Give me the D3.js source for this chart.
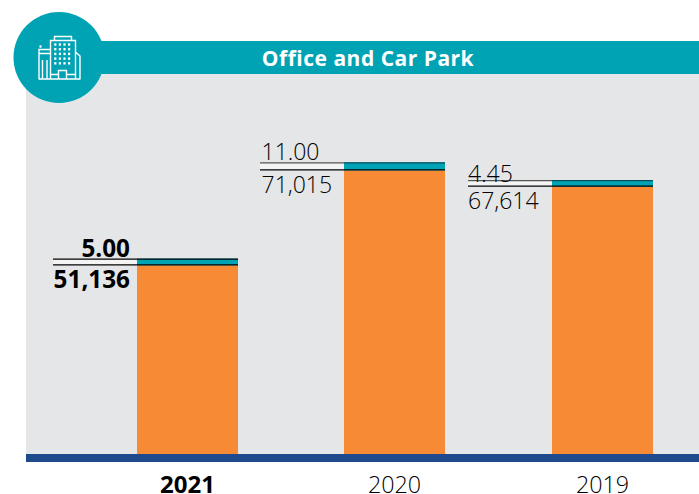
<!DOCTYPE html>
<html><head><meta charset="utf-8">
<script src="https://cdnjs.cloudflare.com/ajax/libs/d3/7.8.5/d3.min.js"></script>
<style>html,body{margin:0;padding:0;background:#fff}svg{display:block}text{font-family:"Open Sans",sans-serif}</style>
</head><body><svg id="c" width="699" height="494"></svg>
<script>
const title = "Office and Car Park";
const years = ["2021","2020","2019"];
const carParkValues = [51136,71015,67614];
const carParkLabels = ["51,136","71,015","67,614"];
const officeValues = [5.00,11.00,4.45];
const officeLabels = ["5.00","11.00","4.45"];
const current = "2021";

const svg = d3.select("#c");
const base = 454;
svg.append("rect").attr("x",26).attr("y",74).attr("width",673).attr("height",380).attr("fill","#e5e6e8");
svg.append("rect").attr("x",26).attr("y",41).attr("width",673).attr("height",33).attr("fill","#00a3b4");
svg.append("circle").attr("cx",59).attr("cy",57.5).attr("r",45.5).attr("fill","#00a3b4");
svg.append("text").attr("x",368).attr("y",66).attr("text-anchor","middle").attr("fill","#fff")
  .attr("font-size",21).attr("font-weight",700).attr("letter-spacing",0.5).text(title);

// icon
const ic = svg.append("g").attr("fill","none").attr("stroke","#fff").attr("stroke-width",1.4);
ic.append("path").attr("d","M50.5 79V40.5H75.5V79M54.5 40V36.5H71.5V40M39 79V49.5H50M39 53.5H50M42.5 79V60M47 79V60M75.5 52L80 56V79M38.5 79H80.5M51 74.5H58.5M66.5 74.5H75M58.5 79V70.5H66.5V79");
ic.append("g").attr("fill","#fff").attr("stroke","none").selectAll("rect")
  .data(d3.cross(d3.range(5),d3.range(4)))
  .join("rect").attr("x",d=>54.2+d[1]*4.6).attr("y",d=>43.3+d[0]*4.7)
  .attr("width",2.2).attr("height",2.4);
ic.append("circle").attr("cx",40.5).attr("cy",46.5).attr("r",.5).attr("fill","#fff");

const xs = d3.scalePoint().domain(years).range([137,552]);
const y = d3.scaleLinear().domain([11600,71015]).range([base,170.4]);
const h = d3.scaleLinear().domain([4.45,11]).range([6.5,8]);
const barW = 101;
const anchorX = {"2021":130,"2020":261.5,"2019":468};
const lineX = {"2021":53,"2020":260,"2019":468};
const upperGap = {"2021":-2,"2020":-2.5,"2019":1.5};
const lowerGap = {"2021":22.5,"2020":23,"2019":22};

years.forEach((yr,i)=>{
  const x0 = Math.floor(xs(yr)), top = y(carParkValues[i]), tt = top-h(officeValues[i]);
  const bold = yr===current;
  const g = svg.append("g");
  g.append("rect").attr("x",lineX[yr]).attr("y",tt).attr("width",x0-lineX[yr]).attr("height",top-tt).attr("fill","#f4f4f4");
  g.append("rect").attr("x",x0).attr("y",top).attr("width",barW).attr("height",base-top).attr("fill","#f78b35");
  g.append("rect").attr("x",x0).attr("y",tt).attr("width",barW).attr("height",top-tt).attr("fill","#00a3b4");
  const upper = bold?"#000":"#555";
  g.append("line").attr("x1",lineX[yr]).attr("x2",x0).attr("y1",tt+.5).attr("y2",tt+.5).attr("stroke",upper).attr("stroke-width",1.2);
  g.append("line").attr("x1",x0).attr("x2",x0+barW).attr("y1",tt+.5).attr("y2",tt+.5).attr("stroke",bold?"#000":"#04505c").attr("stroke-width",1.2);
  g.append("line").attr("x1",lineX[yr]).attr("x2",x0+barW).attr("y1",top-.5).attr("y2",top-.5).attr("stroke","#000").attr("stroke-width",1.2);
  const attrs = s=>s.attr("x",anchorX[yr]).attr("text-anchor",bold?"end":"start").attr("font-size",bold?24.3:23)
     .attr("font-weight",bold?700:300).attr("fill","#000");
  g.append("text").call(attrs).attr("y",tt+upperGap[yr]).text(officeLabels[i]);
  g.append("text").call(attrs).attr("y",top+lowerGap[yr]).text(carParkLabels[i]);
  g.append("text").attr("x",x0+barW/2).attr("y",493).attr("text-anchor","middle")
    .attr("font-size",bold?24:23.3).attr("font-weight",bold?700:300).attr("fill","#000").text(yr);
});
svg.append("rect").attr("x",26).attr("y",454).attr("width",673).attr("height",8).attr("fill","#1f4a8e");
</script></body></html>
